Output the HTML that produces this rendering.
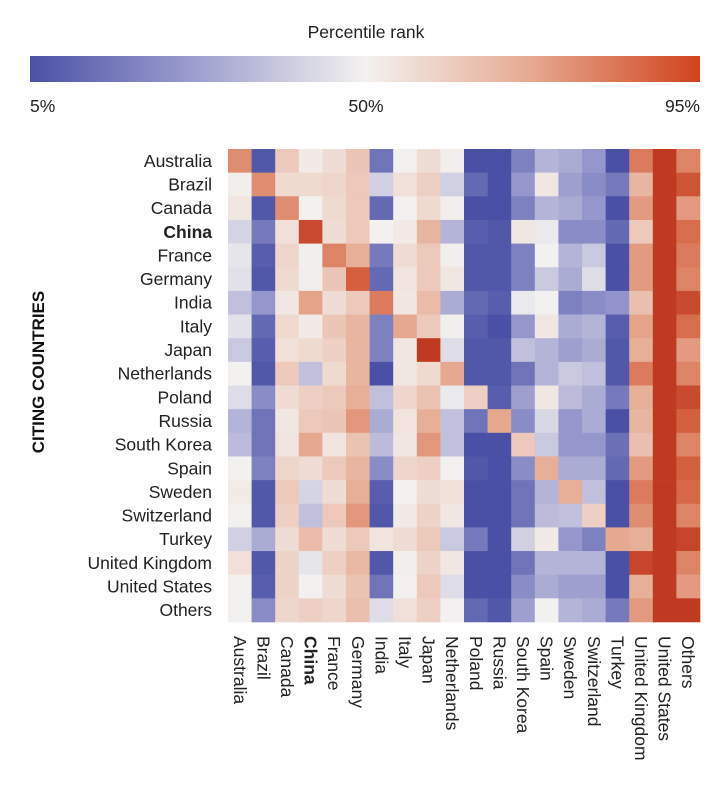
<!DOCTYPE html>
<html><head><meta charset="utf-8">
<style>
body{margin:0;background:#fff;width:712px;height:796px;overflow:hidden}
svg{display:block;font-family:"Liberation Sans",sans-serif}
</style></head>
<body>
<svg id="chart" width="712" height="796" xmlns="http://www.w3.org/2000/svg">
<defs>
<linearGradient id="grad" x1="0" x2="1" y1="0" y2="0">
<stop offset="0" stop-color="#4b51a6"/>
<stop offset="0.25" stop-color="#9ea0cf"/>
<stop offset="0.5" stop-color="#f3f1ef"/>
<stop offset="0.75" stop-color="#e6a88f"/>
<stop offset="1" stop-color="#d0441d"/>
</linearGradient>
</defs>
<text x="366" y="38" text-anchor="middle" font-size="17.5" fill="#222">Percentile rank</text>
<rect x="30" y="56" width="670" height="26" fill="url(#grad)"/>
<text x="30" y="112" font-size="17.5" fill="#222">5%</text>
<text x="366" y="112" text-anchor="middle" font-size="17.5" fill="#222">50%</text>
<text x="700" y="112" text-anchor="end" font-size="17.5" fill="#222">95%</text>
<text transform="translate(44,372) rotate(-90)" text-anchor="middle" font-size="17" font-weight="bold" fill="#111">CITING COUNTRIES</text>
<g id="cells"></g>
<g id="labels"></g>
</svg>
<script>
const countries=["Australia","Brazil","Canada","China","France","Germany","India","Italy","Japan","Netherlands","Poland","Russia","South Korea","Spain","Sweden","Switzerland","Turkey","United Kingdom","United States","Others"];
const rowAustralia=[78,10,62,52,56,63,18,50,56,51,8,8,22,35,33,28,8,82,95,80];
const rowBrazil=[51,78,57,57,58,62,42,55,60,42,15,8,28,53,30,25,20,68,95,90];
const rowCanada=[53,10,78,50,57,62,15,50,57,51,8,8,22,35,33,28,8,75,95,75];
const rowChina=[43,20,55,92,56,62,50,52,68,35,12,10,53,48,25,25,15,62,95,85];
const rowFrance=[47,12,58,51,80,70,20,56,62,51,10,10,22,50,35,40,8,75,95,82];
const rowGermany=[46,10,57,51,63,88,15,54,62,53,10,10,22,40,33,45,8,75,95,80];
const rowIndia=[38,28,53,73,56,62,82,53,66,33,15,12,48,50,22,25,27,65,95,92];
const rowItaly=[46,15,57,52,63,68,22,72,62,51,12,8,28,53,33,35,12,73,95,85];
const rowJapan=[40,12,55,57,60,68,22,53,95,45,10,10,38,35,30,33,10,70,95,75];
const rowNetherlands=[50,10,62,38,57,68,8,53,57,72,10,10,18,35,40,38,10,82,95,80];
const rowPoland=[45,25,56,60,62,70,38,58,64,48,60,12,30,53,37,33,20,70,95,92];
const rowRussia=[35,18,53,62,63,76,33,54,70,38,18,72,25,44,28,33,8,68,95,88];
const rowSouthKorea=[37,18,54,72,54,64,37,53,76,38,8,8,62,40,28,28,17,65,95,80];
const rowSpain=[50,22,58,56,62,68,25,58,60,50,10,8,25,70,33,33,15,75,95,88];
const rowSweden=[52,10,62,43,56,70,12,50,56,55,8,8,18,35,70,38,8,82,95,86];
const rowSwitzerland=[50,10,60,38,62,76,10,52,59,53,8,8,18,37,38,60,8,78,95,80];
const rowTurkey=[42,33,56,66,56,62,54,56,62,40,20,8,42,52,28,22,72,70,95,93];
const rowUK=[55,10,59,47,60,67,10,51,59,53,8,8,18,35,35,35,8,93,95,80];
const rowUS=[50,12,59,50,56,64,18,50,62,45,8,8,25,33,30,30,8,70,95,75];
const rowOthers=[50,25,58,60,58,65,45,55,60,50,15,10,30,50,35,33,20,75,95,95];
const values=[rowAustralia,rowBrazil,rowCanada,rowChina,rowFrance,rowGermany,rowIndia,rowItaly,rowJapan,rowNetherlands,rowPoland,rowRussia,rowSouthKorea,rowSpain,rowSweden,rowSwitzerland,rowTurkey,rowUK,rowUS,rowOthers];

const NS="http://www.w3.org/2000/svg";
const gx0=228,gx1=700,gy0=149,gy1=622;
const cw=(gx1-gx0)/countries.length, ch=(gy1-gy0)/countries.length;
function xScale(i){return gx0+i*cw;}
function yScale(i){return gy0+i*ch;}
const stops=[[8,[73,80,165]],[27,[145,147,202]],[50,[243,241,239]],[72,[230,168,143]],[88,[212,95,62]],[95,[192,58,34]]];
function color(v){
  if(v<=stops[0][0])return "rgb("+stops[0][1].join(",")+")";
  for(let k=0;k<stops.length-1;k++){
    const a=stops[k],b=stops[k+1];
    if(v<=b[0]){const t=(v-a[0])/(b[0]-a[0]);
      const c=a[1].map((x,j)=>Math.round(x+(b[1][j]-x)*t));
      return "rgb("+c.join(",")+")";}
  }
  return "rgb("+stops[stops.length-1][1].join(",")+")";
}
const cells=document.getElementById("cells");
values.forEach((row,r)=>{
  row.forEach((v,c)=>{
    const el=document.createElementNS(NS,"rect");
    
    
    el.setAttribute("x",xScale(c));el.setAttribute("y",yScale(r));
    el.setAttribute("width",cw+0.3);el.setAttribute("height",ch+0.3);
    el.setAttribute("fill",color(v));
    cells.appendChild(el);
  });
});
const labels=document.getElementById("labels");
countries.forEach((name,i)=>{
  const t=document.createElementNS(NS,"text");
  
  
  t.setAttribute("x",212);t.setAttribute("y",yScale(i)+ch/2+6);
  t.setAttribute("text-anchor","end");t.setAttribute("font-size","17.5");t.setAttribute("fill","#222");
  if(name==="China")t.setAttribute("font-weight","bold");
  t.textContent=name;labels.appendChild(t);
  const u=document.createElementNS(NS,"text");
  
  
  const cx=xScale(i)+cw/2-6;
  u.setAttribute("transform","translate("+cx+",636) rotate(90)");
  u.setAttribute("font-size","17.5");u.setAttribute("fill","#222");
  if(name==="China")u.setAttribute("font-weight","bold");
  u.textContent=name;labels.appendChild(u);
});
</script>
</body></html>
